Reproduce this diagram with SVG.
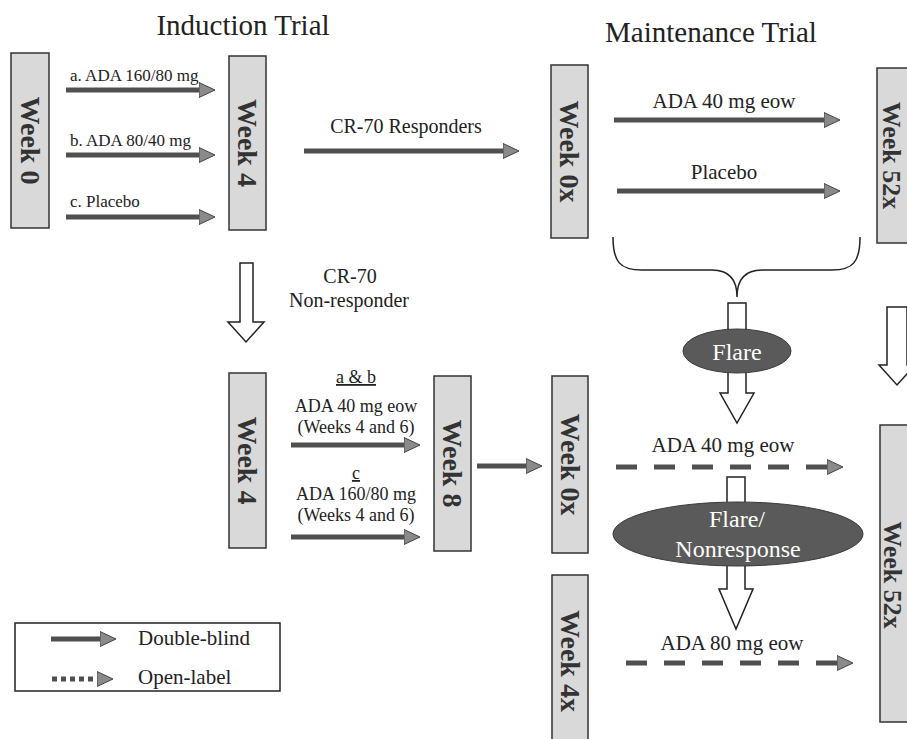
<svg xmlns="http://www.w3.org/2000/svg" width="907" height="739" viewBox="0 0 907 739">
<style>
  text { font-family: "Liberation Serif", "DejaVu Serif", serif; fill: #222; }
  .title { font-size: 29px; }
  .wk { font-size: 28px; font-weight: bold; fill: #333; }
  .wk2 { font-size: 26px; font-weight: bold; fill: #333; }
  .box { fill: #d9d9d9; stroke: #333; stroke-width: 1.5; }
  .lbl17 { font-size: 17px; }
  .lbl18 { font-size: 18px; }
  .lbl20 { font-size: 20px; }
  .lbl21 { font-size: 21px; }
  .flare { fill: #5a5a5a; stroke: #3a3a3a; stroke-width: 1; }
  .ftxt { font-size: 24px; fill: #fff; }
  .solid { stroke: #505050; stroke-width: 5; fill: none; marker-end: url(#head); }
  .dash { stroke: #505050; stroke-width: 5; fill: none; stroke-dasharray: 21 17; marker-end: url(#head); }
  .dot { stroke: #505050; stroke-width: 5; fill: none; stroke-dasharray: 5 4; marker-end: url(#head); }
  .block { fill: #fff; stroke: #222; stroke-width: 1.5; }
</style>
<defs>
  <marker id="head" markerUnits="userSpaceOnUse" markerWidth="18" markerHeight="18" refX="0" refY="8" orient="auto" viewBox="0 0 18 16">
    <path d="M0,0.5 L16,8 L0,15.5 Z" fill="#8a8a8a" stroke="#444" stroke-width="1"/>
  </marker>
</defs>

<text class="title" x="243" y="35" text-anchor="middle">Induction Trial</text>
<text class="title" x="711" y="42" text-anchor="middle">Maintenance Trial</text>

<g id="connectors">
  <line class="solid" x1="66" y1="90" x2="199" y2="90"/>
  <line class="solid" x1="66" y1="155" x2="199" y2="155"/>
  <line class="solid" x1="66" y1="217" x2="199" y2="217"/>
  <line class="solid" x1="304" y1="151" x2="503" y2="151"/>
  <line class="solid" x1="614" y1="120" x2="824" y2="120"/>
  <line class="solid" x1="617" y1="191" x2="824" y2="191"/>
  <line class="solid" x1="291" y1="445" x2="404" y2="445"/>
  <line class="solid" x1="291" y1="537" x2="404" y2="537"/>
  <line class="solid" x1="477" y1="466" x2="526" y2="466"/>
  <line class="dash" x1="616" y1="467" x2="827" y2="467"/>
  <line class="dash" x1="626" y1="663" x2="837" y2="663"/>
  <path d="M613,237 C613,262 620,270 642,270 L712,270 C729,270 737,280 737,297 C737,280 745,270 762,270 L832,270 C853,270 860,262 860,237" fill="none" stroke="#222" stroke-width="1.5"/>
  <polygon class="block" points="240,263 253,263 253,322 264,322 246,342 228,322 240,322"/>
  <polygon class="block" points="728,303 746,303 746,393 754,393 737,423 720,393 728,393"/>
  <polygon class="block" points="727,477 745,477 745,589 753,589 736,629 719,589 727,589"/>
  <polygon class="block" points="887,307 907,307 907,365 915,365 897,385 879,365 887,365"/>
</g>

<g id="labels">
  <text class="lbl17" x="70" y="81">a. ADA 160/80 mg</text>
  <text class="lbl17" x="70" y="146">b. ADA 80/40 mg</text>
  <text class="lbl17" x="70" y="207">c. Placebo</text>
  <text class="lbl20" x="406" y="133" text-anchor="middle">CR-70 Responders</text>
  <text class="lbl21" x="724" y="108" text-anchor="middle">ADA 40 mg eow</text>
  <text class="lbl21" x="724" y="179" text-anchor="middle">Placebo</text>
  <text class="lbl20" x="350" y="283" text-anchor="middle">CR-70</text>
  <text class="lbl20" x="349" y="307" text-anchor="middle">Non-responder</text>
  <text class="lbl18" x="356" y="383" text-anchor="middle" text-decoration="underline">a &amp; b</text>
  <text class="lbl18" x="356" y="412" text-anchor="middle">ADA 40 mg eow</text>
  <text class="lbl18" x="356" y="433" text-anchor="middle">(Weeks 4 and 6)</text>
  <text class="lbl18" x="356" y="479" text-anchor="middle" text-decoration="underline">c</text>
  <text class="lbl18" x="356" y="500" text-anchor="middle">ADA 160/80 mg</text>
  <text class="lbl18" x="356" y="521" text-anchor="middle">(Weeks 4 and 6)</text>
  <text class="lbl21" x="723" y="452" text-anchor="middle">ADA 40 mg eow</text>
  <text class="lbl21" x="732" y="650" text-anchor="middle">ADA 80 mg eow</text>
</g>

<g id="week0"><rect class="box" x="11" y="53" width="38" height="175"/><text class="wk" transform="translate(30,140.5) rotate(90)" text-anchor="middle" dy="0.33em">Week 0</text></g>
<g id="week4-top"><rect class="box" x="229" y="56" width="37" height="174"/><text class="wk" transform="translate(247.5,143) rotate(90)" text-anchor="middle" dy="0.33em">Week 4</text></g>
<g id="week0x-top"><rect class="box" x="551" y="65" width="37" height="173"/><text class="wk" transform="translate(569.5,151.5) rotate(90)" text-anchor="middle" dy="0.33em">Week 0x</text></g>
<g id="week52x-top"><rect class="box" x="877" y="68" width="40" height="175"/><text class="wk2" transform="translate(892,155.5) rotate(90)" text-anchor="middle" dy="0.33em">Week 52x</text></g>
<g id="week4-bottom"><rect class="box" x="229" y="373" width="37" height="175"/><text class="wk" transform="translate(247.5,460.5) rotate(90)" text-anchor="middle" dy="0.33em">Week 4</text></g>
<g id="week8"><rect class="box" x="434" y="376" width="37" height="175"/><text class="wk" transform="translate(452.5,463.5) rotate(90)" text-anchor="middle" dy="0.33em">Week 8</text></g>
<g id="week0x-bottom"><rect class="box" x="552" y="376" width="36" height="177"/><text class="wk" transform="translate(570,464.5) rotate(90)" text-anchor="middle" dy="0.33em">Week 0x</text></g>
<g id="week4x"><rect class="box" x="552" y="575" width="36" height="180"/><text class="wk" transform="translate(570,661) rotate(90)" text-anchor="middle" dy="0.33em">Week 4x</text></g>
<g id="week52x-bottom"><rect class="box" x="880" y="425" width="36" height="297"/><text class="wk2" transform="translate(893,575) rotate(90)" text-anchor="middle" dy="0.33em">Week 52x</text></g>

<g id="flare"><ellipse class="flare" cx="737" cy="351" rx="54" ry="22"/><text class="ftxt" x="737" y="360" text-anchor="middle">Flare</text></g>
<g id="flare-nonresponse"><ellipse class="flare" cx="738" cy="534" rx="125" ry="32"/><text class="ftxt" x="737" y="527" text-anchor="middle">Flare/</text><text class="ftxt" x="738" y="557" text-anchor="middle">Nonresponse</text></g>

<g id="legend">
  <rect x="15" y="623" width="265" height="68" fill="none" stroke="#222" stroke-width="1.5"/>
  <line class="solid" x1="51" y1="639" x2="100" y2="639"/>
  <line class="dot" x1="52" y1="679" x2="97" y2="679"/>
  <text class="lbl21" x="138" y="645">Double-blind</text>
  <text class="lbl21" x="138" y="684">Open-label</text>
</g>
</svg>
